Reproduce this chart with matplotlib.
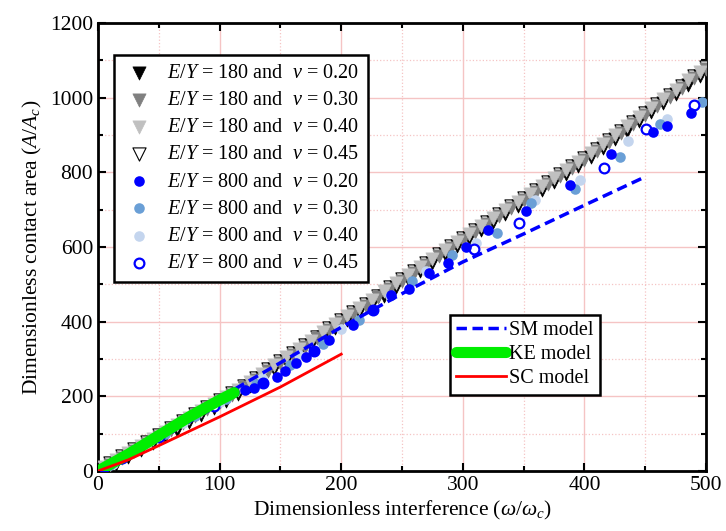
import matplotlib
matplotlib.use('Agg')
import matplotlib.pyplot as plt
from matplotlib.ticker import MultipleLocator

plt.rcParams['font.family'] = 'Liberation Serif'
plt.rcParams['mathtext.fontset'] = 'custom'
plt.rcParams['mathtext.rm'] = 'Liberation Serif'
plt.rcParams['mathtext.it'] = 'Liberation Serif:italic'

# E/Y = 180 series (triangles)
w180_a = [5, 15, 25, 35, 45, 55, 65, 75, 85, 95, 105, 115, 125, 135, 145, 155, 165, 175, 185, 195,
          205, 215, 225, 235, 245, 255, 265, 275, 285, 295, 305, 315, 325, 335, 345, 355, 365, 375, 385, 395,
          405, 415, 425, 435, 445, 455, 465, 475, 485, 495]
w180_b = [10, 20, 30, 40, 50, 60, 70, 80, 90, 100, 110, 120, 130, 140, 150, 160, 170, 180, 190, 200,
          210, 220, 230, 240, 250, 260, 270, 280, 290, 300, 310, 320, 330, 340, 350, 360, 370, 380, 390, 400,
          410, 420, 430, 440, 450, 460, 470, 480, 490, 500]
a180_020 = [1, 19, 37, 56, 74, 93, 111, 130, 149, 168, 187, 207, 228, 250, 272, 294, 316, 338, 360, 382,
            404, 426, 448, 470, 492, 514, 536, 558, 580, 602, 623, 645, 666, 688, 709, 731, 752, 774, 795, 817,
            840, 864, 888, 912, 937, 961, 986, 1010, 1035, 1059]
a180_030 = [17, 36, 54, 73, 91, 110, 128, 147, 166, 185, 204, 224, 245, 267, 289, 311, 333, 355, 377, 399,
            421, 443, 465, 487, 509, 531, 553, 575, 597, 619, 640, 662, 683, 705, 726, 748, 769, 791, 812, 834,
            857, 881, 905, 929, 954, 978, 1003, 1027, 1052, 1076]
a180_040 = [11, 30, 48, 67, 85, 104, 122, 141, 160, 179, 198, 218, 239, 261, 283, 305, 327, 349, 371, 393,
            415, 437, 459, 481, 503, 525, 547, 569, 591, 613, 634, 656, 677, 699, 720, 742, 763, 785, 806, 828,
            851, 875, 899, 923, 948, 972, 997, 1021, 1046, 1070]
a180_045 = [22, 41, 59, 78, 96, 115, 133, 152, 171, 190, 209, 229, 250, 272, 294, 316, 338, 360, 382, 404,
            426, 448, 470, 492, 514, 536, 558, 580, 602, 624, 645, 667, 688, 710, 731, 753, 774, 796, 817, 839,
            862, 886, 910, 934, 959, 983, 1008, 1032, 1057, 1081]

# E/Y = 800 series (circles)
w800_020 = [5, 18, 32, 46, 60, 74, 88, 100, 112, 121, 128, 136, 147, 154, 163, 171, 178, 190, 210, 226,
            241, 256, 272, 288, 303, 321, 352, 388, 422, 456, 468, 488]
a800_020 = [9, 33, 60, 88, 115, 142, 168, 192, 212, 217, 222, 235, 253, 268, 290, 305, 322, 350, 391, 430,
            471, 487, 531, 558, 601, 645, 696, 766, 850, 908, 925, 960]
w800_030 = [10, 30, 55, 80, 105, 130, 158, 185, 215, 258, 291, 328, 356, 392, 429, 462, 497]
a800_030 = [16, 55, 100, 146, 192, 232, 285, 340, 405, 508, 579, 638, 717, 755, 842, 929, 989]
w800_040 = [12, 40, 70, 100, 135, 165, 200, 240, 270, 311, 359, 396, 436, 468]
a800_040 = [20, 72, 128, 185, 250, 310, 380, 470, 535, 610, 726, 780, 885, 944]
w800_045 = [20, 50, 95, 136, 178, 226, 309, 346, 416, 451, 490]
a800_045 = [35, 92, 175, 235, 322, 430, 594, 663, 811, 916, 980]

# models
w_sm = [0, 50, 100, 150, 200, 250, 300, 350, 400, 450]
a_sm = [0, 98, 196, 290, 385, 475, 560, 635, 712, 788]
w_ke = [0, 25, 50, 75, 100, 112]
a_ke = [0, 45, 95, 145, 190, 210]
w_sc = [0, 25, 50, 100, 150, 200]
a_sc = [0, 30, 68, 145, 225, 313]

fig = plt.figure(figsize=(7.26, 5.31), dpi=100)
ax = fig.add_axes([0.135, 0.113, 0.8375, 0.8437])

ts = 90
cs = 58
h1 = ax.scatter(w180_a, a180_020, s=ts, marker='v', c='black', linewidths=0.5, zorder=4,
                label=r'$E/Y$ = 180 and  $\nu$ = 0.20')
h2 = ax.scatter(w180_b, a180_030, s=ts, marker='v', c='#808080', linewidths=0.5, zorder=5,
                label=r'$E/Y$ = 180 and  $\nu$ = 0.30')
h3 = ax.scatter(w180_a, a180_040, s=ts, marker='v', c='#c0c0c0', linewidths=0.5, zorder=6,
                label=r'$E/Y$ = 180 and  $\nu$ = 0.40')
h4 = ax.scatter(w180_b, a180_045, s=ts, marker='v', facecolors='white', edgecolors='black', linewidths=0.8,
                zorder=3, label=r'$E/Y$ = 180 and  $\nu$ = 0.45')
h5 = ax.scatter(w800_020, a800_020, s=cs, marker='o', c='#0000ff', linewidths=0, zorder=10,
                label=r'$E/Y$ = 800 and  $\nu$ = 0.20')
h6 = ax.scatter(w800_030, a800_030, s=cs, marker='o', c='#6a9fd6', linewidths=0, zorder=8,
                label=r'$E/Y$ = 800 and  $\nu$ = 0.30')
h7 = ax.scatter(w800_040, a800_040, s=cs, marker='o', c='#c4d5ee', linewidths=0, zorder=7,
                label=r'$E/Y$ = 800 and  $\nu$ = 0.40')
h8 = ax.scatter(w800_045, a800_045, s=cs * 0.85, marker='o', facecolors='white', edgecolors='#0000ff',
                linewidths=1.6, zorder=9, label=r'$E/Y$ = 800 and  $\nu$ = 0.45')

l1, = ax.plot(w_sm, a_sm, '--', color='#0000ff', lw=2.5, dashes=(3, 1.6), zorder=12, label='SM model')
l2, = ax.plot(w_ke, a_ke, '-', color='#00ee00', lw=8, solid_capstyle='round', zorder=13, label='KE model')
l3, = ax.plot(w_sc, a_sc, '-', color='#ff0000', lw=2, zorder=14, label='SC model')

ax.set_xlim(0, 500)
ax.set_ylim(0, 1200)
ax.xaxis.set_major_locator(MultipleLocator(100))
ax.xaxis.set_minor_locator(MultipleLocator(50))
ax.yaxis.set_major_locator(MultipleLocator(200))
ax.yaxis.set_minor_locator(MultipleLocator(100))
ax.grid(which='major', color='#f5c4c4', lw=1.0, ls='-', zorder=0)
ax.grid(which='minor', color='#f5c4c4', lw=0.9, ls=':', zorder=0)
ax.set_axisbelow(True)
ax.tick_params(which='both', direction='in', top=True, right=True, labelsize=15.5, width=1.5)
ax.tick_params(which='major', length=6)
ax.tick_params(which='minor', length=3.5)
for sp in ax.spines.values():
    sp.set_linewidth(2)

ax.set_xlabel(r'Dimensionless interference ($\omega/\omega_c$)', fontsize=15.5, labelpad=3)
ax.set_ylabel(r'Dimensionless contact area ($A/A_c$)', fontsize=15.5, labelpad=4)

leg1 = ax.legend(handles=[h1, h2, h3, h4, h5, h6, h7, h8], loc='upper left',
                 bbox_to_anchor=(0.026, 0.929), borderaxespad=0, fontsize=14.5, fancybox=False,
                 edgecolor='black', framealpha=1, handletextpad=0.6, labelspacing=0.4,
                 borderpad=0.45, handlelength=1.6)
leg1.get_frame().set_linewidth(1.8)
leg1.set_zorder(20)
ax.add_artist(leg1)

leg2 = ax.legend(handles=[l1, l2, l3], loc='upper left', bbox_to_anchor=(0.579, 0.348),
                 borderaxespad=0, fontsize=14.5, fancybox=False, edgecolor='black', framealpha=1,
                 handlelength=2.5, handletextpad=0.15, labelspacing=0.25, borderpad=0.3)
leg2.get_frame().set_linewidth(1.8)
leg2.set_zorder(20)

fig.savefig('out.png', dpi=100)
